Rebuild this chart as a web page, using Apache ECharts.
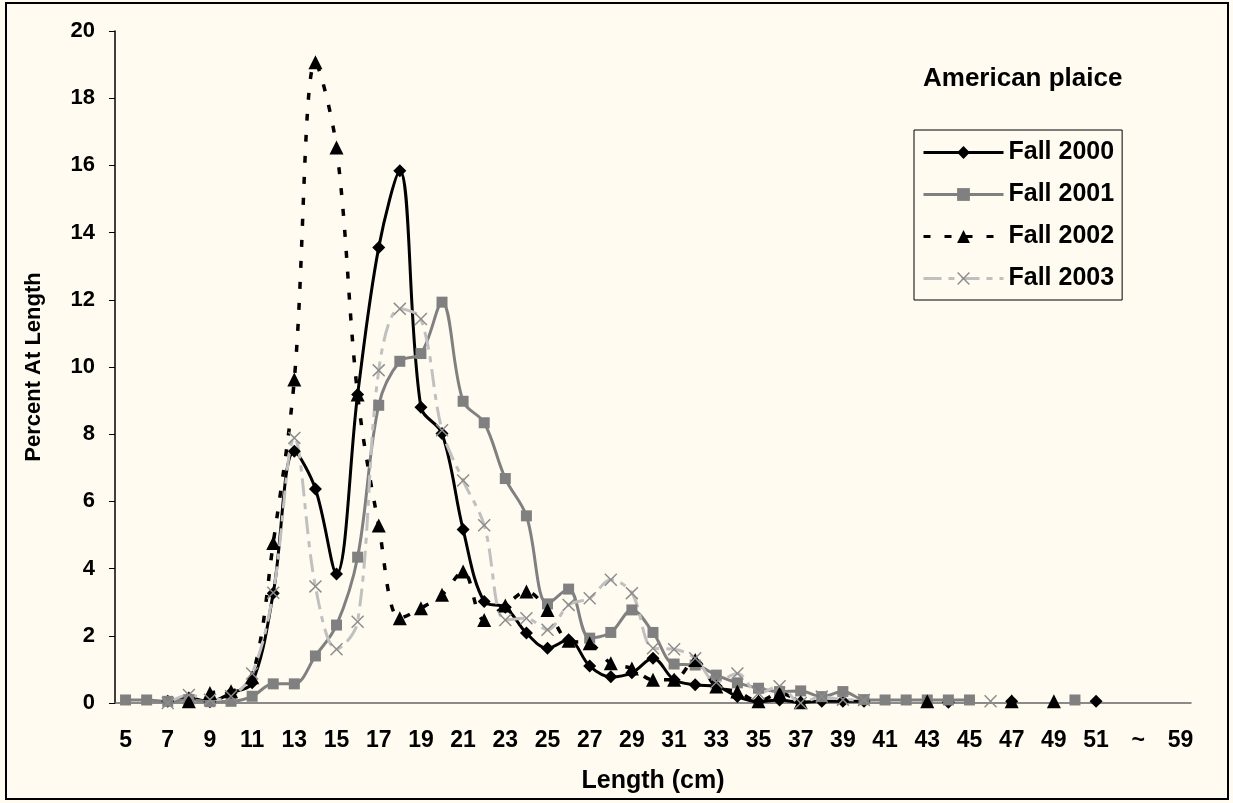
<!DOCTYPE html>
<html>
<head>
<meta charset="utf-8">
<script src="https://cdn.jsdelivr.net/npm/echarts@6/dist/echarts.min.js"></script>
<style>
  html, body { margin: 0; padding: 0; background: #FFFBF0; }
  #chart { width: 1233px; height: 803px; }
</style>
</head>
<body>
<div id="chart"></div>
<script>
// length classes (cm); the axis jumps from 52 to 58 via "~"
const lengths = ['5','6','7','8','9','10','11','12','13','14','15','16','17','18','19','20',
  '21','22','23','24','25','26','27','28','29','30','31','32','33','34','35','36','37','38',
  '39','40','41','42','43','44','45','46','47','48','49','50','51','52','~','58','59'];

// percent at length, one value per length class above
const fall2000 = [null,null,0.05,0.15,0.04,0.3,0.6,3.27,7.49,6.37,3.84,9.18,13.56,15.84,8.8,8.02,
  5.16,3.02,2.85,2.08,1.63,1.88,1.1,0.78,0.9,1.33,0.69,0.54,0.5,0.19,0.04,0.09,0.02,0.05,
  0.05,0.05,null,null,null,0.02,null,null,0.05,null,null,null,0.05,null,null,null,null];
const fall2001 = [0.09,0.09,0.05,0.1,0.04,0.05,0.2,0.57,0.57,1.4,2.32,4.34,8.86,10.17,10.4,11.93,
  8.98,8.34,6.68,5.57,2.95,3.39,1.93,2.1,2.77,2.1,1.16,1.13,0.83,0.6,0.44,0.34,0.36,0.19,
  0.34,0.1,0.09,0.09,0.09,0.09,0.09,null,null,null,null,0.09,null,null,null,null,null];
const fall2002 = [null,null,null,0.05,0.3,0.35,0.77,4.76,9.63,19.07,16.53,9.18,5.28,2.52,2.82,3.22,
  3.91,2.47,2.9,3.32,2.77,1.85,1.78,1.18,1.03,0.69,0.69,1.28,0.49,0.34,0.05,0.29,0.02,null,
  null,null,null,null,0.05,null,null,null,0.05,null,0.05,null,null,null,null,null,null];
const fall2003 = [null,null,0.0,0.24,0.1,0.2,0.88,3.28,7.89,3.47,1.6,2.42,9.9,11.73,11.43,8.12,
  6.62,5.29,2.47,2.52,2.18,2.92,3.12,3.67,3.27,1.63,1.6,1.33,0.62,0.88,0.29,0.5,0.0,0.19,
  0.1,0.09,null,null,null,null,null,0.05,null,null,null,null,null,null,null,null,null];

const seriesNames = ['Fall 2000', 'Fall 2001', 'Fall 2002', 'Fall 2003'];
const yTicks = { min: 0, max: 20, step: 2 };

const font = 'Arial, "Liberation Sans", sans-serif';
const crossPath = 'path://M0.8,0L5,4.2L9.2,0L10,0.8L5.8,5L10,9.2L9.2,10L5,5.8L0.8,10L0,9.2L4.2,5L0,0.8Z';

const chart = echarts.init(document.getElementById('chart'));

const option = {
  backgroundColor: '#FFFBF0',
  animation: false,
  title: {
    text: 'American plaice',
    left: 918,
    top: 61,
    textStyle: { fontFamily: font, fontSize: 26, fontWeight: 'bold', color: '#000' }
  },
  legend: {
    orient: 'vertical',
    left: 914,
    top: 130,
    padding: [10, 8, 9, 8],
    borderColor: '#000',
    borderWidth: 1,
    itemWidth: 80,
    itemHeight: 16,
    itemGap: 17,
    lineStyle: { width: 3 },
    textStyle: { fontFamily: font, fontSize: 25, fontWeight: 'bold', color: '#000' },
    data: seriesNames
  },
  graphic: [{
    type: 'rect',
    shape: { x: 6, y: 3, width: 1222, height: 796 },
    style: { fill: 'none', stroke: '#000', lineWidth: 2 },
    silent: true
  }],
  grid: { left: 115, right: 42, top: 31, bottom: 100 },
  xAxis: {
    type: 'category',
    data: lengths,
    boundaryGap: true,
    name: 'Length (cm)',
    nameLocation: 'middle',
    nameGap: 66,
    nameTextStyle: { fontFamily: font, fontSize: 25, fontWeight: 'bold', color: '#000' },
    axisLine: { lineStyle: { color: '#666', width: 1.5 } },
    axisTick: { interval: 0, length: 7, lineStyle: { color: '#333' } },
    axisLabel: { interval: 1, margin: 26, fontFamily: font, fontSize: 23, fontWeight: 'bold', color: '#000' },
    splitLine: { show: false }
  },
  yAxis: {
    type: 'value',
    min: yTicks.min,
    max: yTicks.max,
    interval: yTicks.step,
    name: 'Percent At Length',
    nameLocation: 'middle',
    nameGap: 70,
    nameRotate: 90,
    nameTextStyle: { fontFamily: font, fontSize: 22, fontWeight: 'bold', color: '#000' },
    axisLine: { show: true, lineStyle: { color: '#000', width: 1.5 } },
    axisTick: { show: true, length: 6, lineStyle: { color: '#000' } },
    axisLabel: { margin: 20, fontFamily: font, fontSize: 22, fontWeight: 'bold', color: '#000' },
    splitLine: { show: false }
  },
  series: [
    {
      name: 'Fall 2000',
      type: 'line',
      data: fall2000,
      smooth: 0.35,
      symbol: 'diamond',
      symbolSize: 13,
      itemStyle: { color: '#000' },
      lineStyle: { color: '#000', width: 3 }
    },
    {
      name: 'Fall 2001',
      type: 'line',
      data: fall2001,
      smooth: 0.35,
      symbol: 'rect',
      symbolSize: 11,
      itemStyle: { color: '#808080' },
      lineStyle: { color: '#808080', width: 3 }
    },
    {
      name: 'Fall 2002',
      type: 'line',
      data: fall2002,
      smooth: 0.35,
      symbol: 'triangle',
      symbolSize: 14,
      itemStyle: { color: '#000' },
      lineStyle: { color: '#000', width: 3.5, type: [7, 14] }
    },
    {
      name: 'Fall 2003',
      type: 'line',
      data: fall2003,
      smooth: 0.35,
      symbol: crossPath,
      symbolSize: 13,
      itemStyle: { color: '#8c8c8c' },
      lineStyle: { color: '#c0c0c0', width: 3, type: [18, 7, 6, 7] }
    }
  ]
};

chart.setOption(option);
</script>
</body>
</html>
